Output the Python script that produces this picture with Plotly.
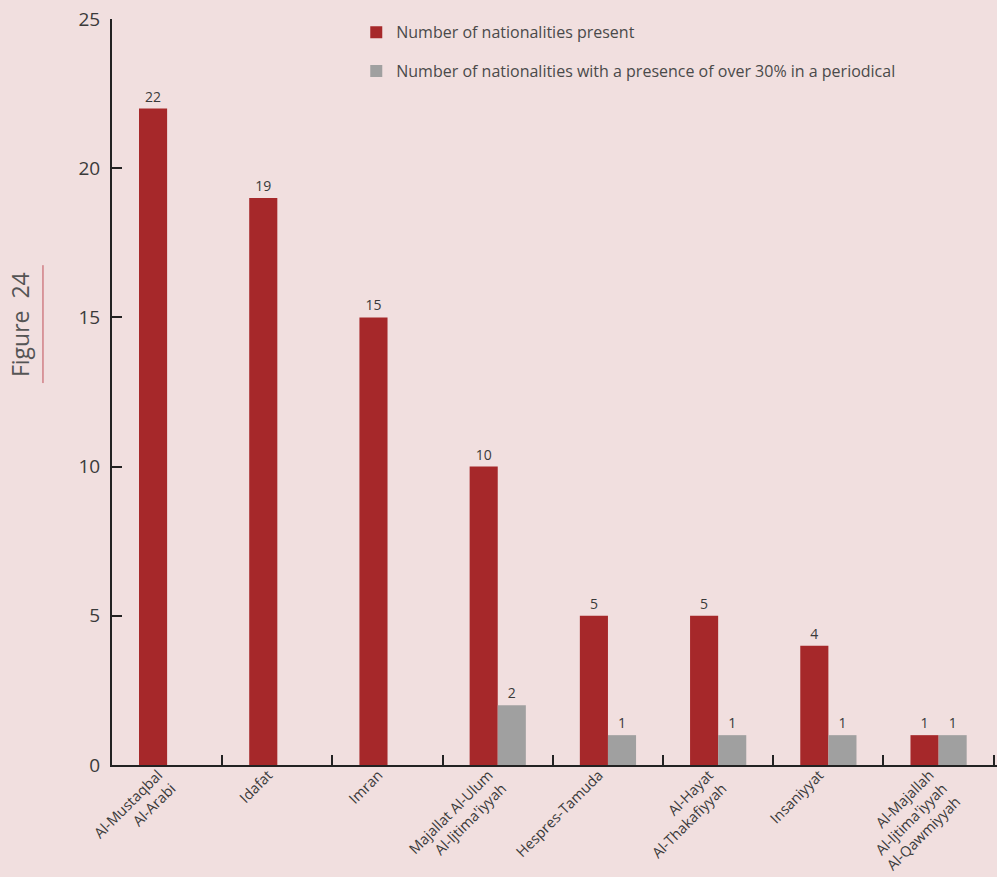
import plotly.graph_objects as go

categories = [
    "Al-Mustaqbal<br>Al-Arabi",
    "Idafat",
    "Imran",
    "Majallat Al-Ulum<br>Al-Ijtima'iyyah",
    "Hespres-Tamuda",
    "Al-Hayat<br>Al-Thakafiyyah",
    "Insaniyyat",
    "Al-Majallah<br>Al-Ijtima'iyyah<br>Al-Qawmiyyah",
]
present = [22, 19, 15, 10, 5, 5, 4, 1]
over30 = [0, 0, 0, 2, 1, 1, 1, 1]
y_ticks = [0, 5, 10, 15, 20, 25]

FONT = "Open Sans"
BG = "#F1DFDF"
RED = "#A6282A"
GRAY = "#A0A0A0"
TXT = "#3a3a3a"

fig = go.Figure()
fig.add_trace(go.Bar(
    x=categories, y=present, name="Number of nationalities present",
    marker=dict(color=RED, line=dict(width=0)),
    text=[str(v) for v in present], textposition="outside",
    textfont=dict(size=14, color=TXT, family=FONT), cliponaxis=False,
    legendgroup="a",
))
fig.add_trace(go.Bar(
    x=categories, y=over30,
    name="Number of nationalities with a presence of over 30% in a periodical",
    marker=dict(color=GRAY, line=dict(width=0)),
    text=[str(v) if v else "" for v in over30], textposition="outside",
    textfont=dict(size=14, color=TXT, family=FONT), cliponaxis=False,
    legendgroup="b",
))

fig.update_layout(
    width=997, height=877,
    paper_bgcolor=BG, plot_bgcolor=BG,
    margin=dict(l=112, r=0, t=19, b=112),
    barmode="group", bargap=0.49, bargroupgap=0,
    font=dict(family=FONT, color=TXT),
    showlegend=True,
    legend=dict(
        x=0.276, y=1.005, xanchor="left", yanchor="top",
        bgcolor="rgba(0,0,0,0)", font=dict(size=16, color="#4a4a4a", family=FONT),
        tracegroupgap=15, traceorder="grouped",
    ),
    xaxis=dict(
        type="category", range=[-0.5, 7.53], automargin=False,
        showline=True, linecolor="#222", linewidth=2,
        ticks="inside", ticklen=10, tickwidth=2, tickcolor="#222",
        tickson="boundaries", tickangle=-45,
        tickfont=dict(size=14.5, color=TXT, family=FONT),
        ticklabelstandoff=-6, ticklabelshift=-9,
        showgrid=False, zeroline=False,
    ),
    yaxis=dict(
        range=[0, 25], tickvals=y_ticks, ticktext=[str(v) for v in y_ticks],
        automargin=False,
        showline=True, linecolor="#222", linewidth=2,
        ticks="inside", ticklen=10, tickwidth=2, tickcolor="#222",
        tickfont=dict(size=19, color=TXT, family=FONT), ticklabelstandoff=6,
        showgrid=False, zeroline=False,
    ),
)

fig.add_annotation(
    xref="paper", yref="paper", x=-0.104, y=0.591,
    xanchor="center", yanchor="middle",
    text="Figure  24", textangle=-90, showarrow=False,
    font=dict(size=23, color="#555", family=FONT),
)
fig.add_shape(
    type="line", xref="paper", yref="paper",
    x0=-0.078, x1=-0.078, y0=0.512, y1=0.67,
    line=dict(color="#C0505A", width=1),
)

fig.write_html(
    "out.html",
    config={"displayModeBar": False},
    post_script="document.body.style.margin='0';document.body.style.overflow='hidden';",
)
